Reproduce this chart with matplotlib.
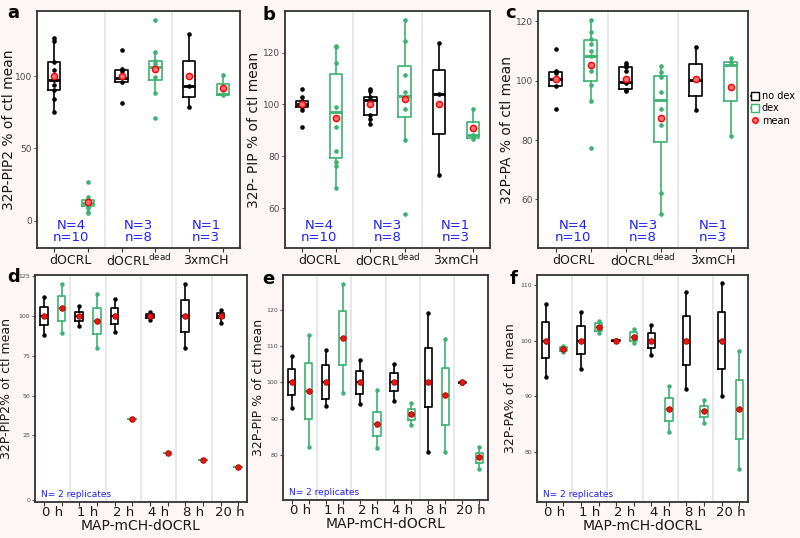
#!/usr/bin/env python3
# 32P-phosphoinositide boxplots, panels a-f
import numpy as np
import matplotlib.pyplot as plt
from matplotlib.lines import Line2D

GREEN = '#3cb371'
BLUE = '#1f1fff'

# ---- top row: dOCRL / dOCRLdead / 3xmCH, alternating no dex / dex ----
top_groups = ['dOCRL', r'dOCRL$^{\mathregular{dead}}$', '3xmCH']
top_counts = ['N=4\nn=10', 'N=3\nn=8', 'N=1\nn=3']

# panel a: 32P-PIP2
a_med = [97, 12.4, 98.4, 106.5, 93, 87.3]
a_q1 = [90.3, 10, 96, 97, 85.7, 86.9]
a_q3 = [110, 14.3, 104, 110.4, 110.4, 94.2]
a_lo = [75.3, 5, 96, 88.5, 78.3, 86.9]
a_hi = [126, 16.6, 105, 116.8, 128.8, 100.7]
a_mean = [100, 13, 100, 104.6, 100, 92]
a_pts = [[126, 124, 110, 104, 100, 97, 94, 90, 84, 75.3],
         [27, 16.6, 14.3, 13, 12, 11, 10, 8.5, 6, 5],
         [118, 105, 103.7, 100, 96, 81],
         [138.7, 116.8, 110.4, 108, 104.6, 99.5, 88.5, 70.7],
         [128.8, 93, 78.3],
         [100.7, 87.3, 86.9]]

# panel b: 32P-PIP
b_med = [100, 97.1, 101.9, 103.2, 104.1, 88.4]
b_q1 = [99, 79.2, 96, 95.1, 88.5, 87.2]
b_q3 = [101.3, 111.7, 102.8, 114.7, 113.4, 93.2]
b_lo = [97.5, 68, 92.3, 86.2, 72.8, 86.5]
b_hi = [102.8, 122.6, 106, 132.6, 123.5, 98.2]
b_mean = [100, 94.9, 100, 102.2, 100, 90.9]
b_pts = [[106, 102.8, 101.5, 100, 99.2, 98, 91.3],
         [122.6, 122, 115.8, 99, 94.9, 91.3, 82, 77.9, 76.4, 68],
         [106, 105, 102.8, 101.8, 100, 95.8, 94.5, 92.3],
         [132.6, 124.5, 111.5, 104.7, 101.8, 98.3, 86.2, 57.9],
         [123.5, 104.1, 72.8],
         [98.2, 88.4, 86.5]]

# panel c: 32P-PA
c_med = [100.6, 108.2, 99.7, 93.5, 100.2, 105.4]
c_q1 = [98.3, 99.8, 97.2, 79.3, 95, 93.3]
c_q3 = [103, 113.6, 104.5, 101.7, 105.8, 106.4]
c_lo = [98.3, 93.3, 96.4, 55.1, 90.2, 81.2]
c_hi = [103.4, 120.3, 106.1, 105, 111.4, 107.5]
c_mean = [100.5, 105.3, 100.6, 87.4, 100.5, 97.8]
c_pts = [[110.8, 103.4, 102.5, 100.6, 98.3, 90.5],
         [120.3, 116.4, 114, 112.5, 110, 108.4, 103.4, 98.7, 93.3, 77.3],
         [106.1, 105.4, 104.5, 103.4, 100, 99.1, 96.9, 96.4],
         [105, 103, 101.3, 96.1, 90.5, 84.9, 62.3, 55.1],
         [111.4, 100.2, 90.2],
         [107.5, 106.4, 81.2]]

# ---- bottom row: MAP-mCH-dOCRL time course, alternating no dex / dex ----
times = ['0 h', '1 h', '2 h', '4 h', '8 h', '20 h']

# panel d: 32P-PIP2
d_mean = [100, 104.8, 100, 96.9, 100, 35.4, 100, 14, 100, 9.4, 100, 5.2]
d_q1 = [94.4, 96.9, 96.9, 88.5, 94.8, 35.4, 98.5, 14, 90, 9.4, 98.5, 5.2]
d_q3 = [105.8, 112.5, 102.5, 105.2, 105.2, 35.4, 101, 14, 109.8, 9.4, 101.5, 5.2]
d_lo = [87.9, 89.2, 93.75, 79.8, 89.6, 35.4, 97.3, 14, 79.8, 9.4, 95.8, 5.2]
d_hi = [112.1, 120.2, 106.2, 114, 110.4, 35.4, 102.1, 14, 120.2, 9.4, 103.75, 5.2]

# panel e: 32P-PIP
e_mean = [100, 97.6, 100, 112.2, 100, 88.6, 100, 91.2, 100, 96.4, 100, 79.3]
e_q1 = [96.4, 90, 95.5, 104.7, 96.9, 85.2, 97.6, 89.6, 93.1, 88.2, 99.9, 77.8]
e_q3 = [103.6, 105.3, 104.7, 119.8, 103.1, 91.8, 102.6, 92.7, 109.5, 104, 100.1, 80.6]
e_lo = [92.8, 82.2, 93.4, 97.2, 94.1, 81.9, 95, 88.3, 80.8, 80.9, 99.8, 76.2]
e_hi = [107.4, 113.1, 109.1, 127.3, 106.1, 98, 105.1, 94.3, 119.2, 112, 100.2, 82.2]

# panel f: 32P-PA
f_mean = [100, 98.5, 100, 102.4, 100, 100.7, 100, 87.7, 100, 87.3, 100, 87.7]
f_q1 = [96.9, 98.1, 97.6, 101.8, 99.9, 100, 98.7, 85.5, 95.6, 86.3, 94.9, 82.4]
f_q3 = [103.3, 98.9, 102.6, 103.1, 100.1, 101.5, 101.4, 89.7, 104.4, 88.2, 105.1, 93]
f_lo = [93.5, 97.9, 94.9, 101.4, 99.9, 99.5, 97.4, 83.6, 91.3, 85.2, 90, 77]
f_hi = [106.6, 99.1, 105.2, 103.6, 100.1, 102.1, 102.9, 91.8, 108.8, 89.4, 110.3, 98.2]

W, H = 800, 538


def px_axes(fig, left, right, top, bottom):
    return fig.add_axes([left / W, 1 - bottom / H, (right - left) / W, (bottom - top) / H])


def style_axes(ax, npos, group_labels, tick_fs, pad):
    ngroups = len(group_labels)
    ax.set_xlim(0.5, npos + 0.5)
    for k in range(1, ngroups):
        ax.axvline(2 * k + 0.5, color='#e4e4e4', lw=1.2, zorder=0)
    ax.set_xticks([2 * k + 1.5 for k in range(ngroups)])
    ax.set_xticklabels(group_labels, fontsize=tick_fs, color='#1a1a1a')
    ax.set_xticks(np.arange(1, npos + 1), minor=True)
    ax.tick_params(axis='x', which='major', length=0, pad=pad)
    ax.tick_params(axis='x', which='minor', length=3, width=0.8, color='#333333')
    for s in ax.spines.values():
        s.set_color('#333333')
        s.set_linewidth(1.3)


def draw_boxes(ax, med, q1, q3, lo, hi, mean, width, small):
    for i in range(len(med)):
        col = 'black' if i % 2 == 0 else GREEN
        st = dict(med=med[i], q1=q1[i], q3=q3[i], whislo=lo[i], whishi=hi[i],
                  mean=mean[i], fliers=[])
        ax.bxp([st], positions=[i + 1], widths=width, showfliers=False,
               showmeans=False, showcaps=False,
               boxprops=dict(color=col, lw=1.2),
               whiskerprops=dict(color=col, lw=1.2),
               medianprops=dict(color=col, lw=1.5 if small else 2.0))


def set_ylabel_px(ax, text, x_px, fs):
    ax.set_ylabel(text, fontsize=fs, color='#1a1a1a')
    bbox = ax.get_position()
    left = bbox.x0 * W
    width = bbox.width * W
    ax.yaxis.set_label_coords((x_px - left) / width, 0.5)


def top_panel(ax, med, q1, q3, lo, hi, mean, pts, ylim, yticks, ylabel, ylab_x):
    draw_boxes(ax, med, q1, q3, lo, hi, mean, 0.36, False)
    for i, p in enumerate(pts):
        col = 'black' if i % 2 == 0 else GREEN
        ax.plot([i + 1] * len(p), p, 'o', color=col, ms=2.3, zorder=3)
    ax.plot(np.arange(1, 7), mean, 'o', ms=4.5, mfc='#ff7070', mec='red', mew=1.0, zorder=4)
    ax.set_ylim(*ylim)
    ax.set_yticks(yticks)
    ax.tick_params(axis='y', labelsize=6.5, colors='#4d4d4d', length=2, pad=1.5)
    style_axes(ax, 6, top_groups, 9, 4)
    for k, txt in enumerate(top_counts):
        ax.text(2 * k + 1.5, ylim[0] + 0.015 * (ylim[1] - ylim[0]), txt, ha='center',
                va='bottom', color=BLUE, fontsize=9.5, linespacing=0.95)
    set_ylabel_px(ax, ylabel, ylab_x, 10)


def bottom_panel(ax, mean, q1, q3, lo, hi, ylim, yticks, yticklabels, ylabel, ylab_x):
    draw_boxes(ax, mean, q1, q3, lo, hi, mean, 0.42, True)
    for i in range(12):
        col = 'black' if i % 2 == 0 else GREEN
        ax.plot([i + 1, i + 1], [lo[i], hi[i]], 'o', color=col, ms=2.2, zorder=3)
    ax.plot(np.arange(1, 13), mean, 'o', ms=4, mfc='#e8170f', mec='#b30000', mew=0.6, zorder=4)
    ax.set_ylim(*ylim)
    ax.set_yticks(yticks)
    ax.set_yticklabels(yticklabels)
    ax.tick_params(axis='y', labelsize=4.5, colors='#4d4d4d', length=2, pad=1.5)
    style_axes(ax, 12, times, 9.5, 3)
    ax.text(0.03, 0.015, 'N= 2 replicates', transform=ax.transAxes, color=BLUE,
            fontsize=6.5, ha='left', va='bottom')
    ax.set_xlabel('MAP-mCH-dOCRL', fontsize=10, color='#1a1a1a', labelpad=0)
    set_ylabel_px(ax, ylabel, ylab_x, 9)


def main():
    fig = plt.figure(figsize=(8, 5.38), dpi=100, facecolor='#fdf6f4')

    ax_a = px_axes(fig, 37, 240, 11, 248)
    ax_b = px_axes(fig, 285, 490, 11, 248)
    ax_c = px_axes(fig, 538, 748, 11, 248)
    ax_d = px_axes(fig, 35, 247, 275, 502)
    ax_e = px_axes(fig, 283, 488, 275, 500)
    ax_f = px_axes(fig, 537, 748, 275, 502)

    top_panel(ax_a, a_med, a_q1, a_q3, a_lo, a_hi, a_mean, a_pts, (-19, 145),
              [0, 50, 100], '32P-PIP2 % of ctl mean', 16)
    top_panel(ax_b, b_med, b_q1, b_q3, b_lo, b_hi, b_mean, b_pts, (44.7, 136),
              [60, 80, 100, 120], '32P- PIP % of ctl mean', 261)
    top_panel(ax_c, c_med, c_q1, c_q3, c_lo, c_hi, c_mean, c_pts, (43.6, 123.5),
              [60, 80, 100, 120], '32P-PA % of ctl mean', 514)

    # the bottom "0" tick of panel d sits at the foot of the axis in the original
    bottom_panel(ax_d, d_mean, d_q1, d_q3, d_lo, d_hi, (-16.7, 125.6),
                 [-15.6, 25, 50, 75, 100, 125], ['0', '25', '50', '75', '100', '125'],
                 '32P-PIP2% of ctl mean', 13)
    bottom_panel(ax_e, e_mean, e_q1, e_q3, e_lo, e_hi, (67.5, 129.7),
                 [80, 90, 100, 110, 120], ['80', '90', '100', '110', '120'],
                 '32P-PIP % of ctl mean', 265)
    bottom_panel(ax_f, f_mean, f_q1, f_q3, f_lo, f_hi, (71, 111.8),
                 [80, 90, 100, 110], ['80', '90', '100', '110'],
                 '32P-PA% of ctl mean', 517)

    letter_pos = {'a': (7, 13), 'b': (262, 15), 'c': (505, 13),
                  'd': (7, 277), 'e': (262, 279), 'f': (510, 279)}
    for letter, (x, y) in letter_pos.items():
        fig.text(x / W, 1 - y / H, letter, fontsize=13, fontweight='bold', ha='left', va='center')

    handles = [Line2D([], [], color='black', marker='s', mfc='white', mec='black', ms=6, lw=1.2),
               Line2D([], [], color=GREEN, marker='s', mfc='white', mec=GREEN, ms=6, lw=1.2),
               Line2D([], [], ls='none', marker='o', ms=4, mfc='#ff7070', mec='red')]
    fig.legend(handles, ['no dex', 'dex', 'mean'], loc='upper left',
               bbox_to_anchor=(749 / W, 1 - 89 / H), frameon=False, fontsize=7,
               handlelength=0.8, handletextpad=0.3, labelspacing=0.25, borderpad=0.2,
               borderaxespad=0)

    fig.savefig('out.png', dpi=100, facecolor=fig.get_facecolor())


if __name__ == '__main__':
    main()
